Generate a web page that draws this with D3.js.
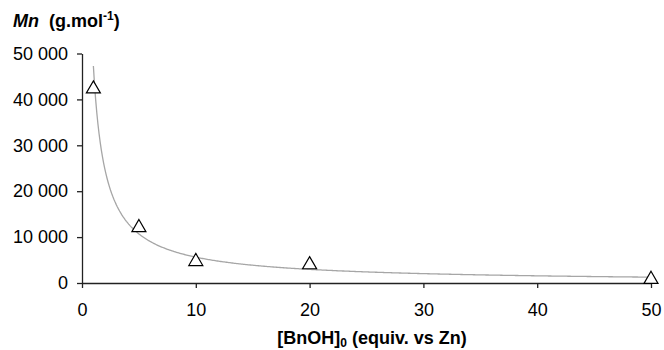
<!DOCTYPE html>
<html><head><meta charset="utf-8">
<script src="https://cdn.jsdelivr.net/npm/d3@7"></script>
<style>body{margin:0;background:#fff}text{font-family:"Liberation Sans",Arial,sans-serif}</style>
</head><body>
<svg id="c" width="664" height="350"></svg>
<script>
const xValues = [1, 5, 10, 20, 50];
const mnValues = [42500, 12300, 4900, 4200, 1000];
const xTicks = [0, 10, 20, 30, 40, 50];
const yTicks = [0, 10000, 20000, 30000, 40000, 50000];
const yTickLabels = ["0", "10 000", "20 000", "30 000", "40 000", "50 000"];

const svg = d3.select("#c");
const x = d3.scaleLinear().domain([0, 50]).range([82, 651]);
const y = d3.scaleLinear().domain([0, 50000]).range([283, 53.5]);

// power trendline fitted from data (log-log least squares)
const lx = xValues.map(Math.log), ly = mnValues.map(Math.log);
const mx = d3.mean(lx), my = d3.mean(ly);
const b = d3.sum(lx.map((v,i)=>(v-mx)*(ly[i]-my))) / d3.sum(lx.map(v=>(v-mx)*(v-mx)));
const a = Math.exp(my - b*mx);
const fitX = d3.range(1, 50.01, 0.1);

svg.append("path")
  .datum(fitX)
  .attr("fill","none").attr("stroke","#a6a6a6").attr("stroke-width",1.3)
  .attr("d", d3.line().x(d=>x(d)).y(d=>y(a*Math.pow(d,b))));

const yAxis = svg.append("g").attr("transform","translate(82,0)")
  .call(d3.axisLeft(y).tickValues(yTicks).tickFormat((d,i)=>yTickLabels[i]).tickSize(5).tickSizeOuter(0).tickPadding(9));
const xAxis = svg.append("g").attr("transform","translate(0,283)")
  .call(d3.axisBottom(x).tickValues(xTicks).tickSize(5).tickSizeOuter(0).tickPadding(15));
[xAxis, yAxis].forEach(g=>{
  g.selectAll("path,line").attr("stroke","#222").attr("stroke-width",1.3);
  g.selectAll("text").attr("font-size",18).attr("fill","#000").attr("font-family","Liberation Sans, Arial, sans-serif");
});

const tri = d3.symbol().type(d3.symbolTriangle).size(85);
svg.append("g").selectAll("path").data(xValues).join("path")
  .attr("transform",(d,i)=>`translate(${x(d)},${y(mnValues[i])+1})`)
  .attr("d", tri).attr("fill","#fff").attr("stroke","#000").attr("stroke-width",1.2);

const yt = svg.append("text").attr("x",13).attr("y",27).attr("font-size",18).attr("font-weight","bold");
yt.append("tspan").attr("font-style","italic").text("Mn");
yt.append("tspan").text("\u00a0 (g.mol");
yt.append("tspan").attr("font-size",12).attr("dy",-7).text("-1");
yt.append("tspan").attr("dy",7).text(")");

const xt = svg.append("text").attr("x",372).attr("y",344).attr("text-anchor","middle").attr("font-size",18).attr("font-weight","bold");
xt.append("tspan").text("[BnOH]");
xt.append("tspan").attr("font-size",12).attr("dy",3).text("0");
xt.append("tspan").attr("dy",-3).text(" (equiv. vs Zn)");
</script>
</body></html>
